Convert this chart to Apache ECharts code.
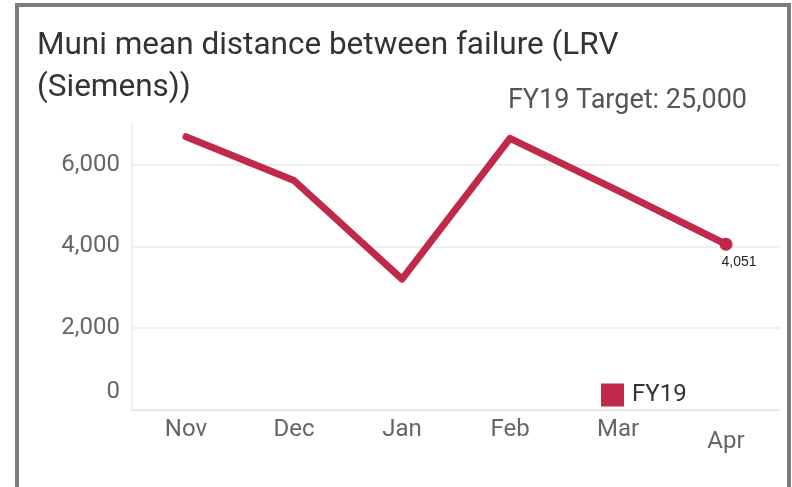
<!DOCTYPE html>
<html>
<head>
<meta charset="utf-8">
<script src="https://cdn.jsdelivr.net/npm/echarts@6/dist/echarts.min.js"></script>
<style>
	html, body { margin: 0; padding: 0; background: #fff; }
	#frame { position: absolute; left: 15px; top: 3px; width: 768px; height: 484px;
		border: 4px solid #7b7b7c; border-bottom: none; pointer-events: none; }
	#chart { position: absolute; left: 0; top: 0; width: 792px; height: 487px; }
</style>
</head>
<body>
<div id="chart"></div>
<div id="frame"></div>
<script>
var months = ['Nov', 'Dec', 'Jan', 'Feb', 'Mar', 'Apr'];
var fy19 = [6680, 5610, 3200, 6640, 5360, 4051];
var yTicks = [0, 2000, 4000, 6000];
var targetText = 'FY19 Target: 25,000';

(function() {
	var red = '#c1294a';
	var data = fy19.map(function(v, i) {
		if (i === fy19.length - 1) {
			return {
				value: v,
				symbol: 'circle',
				symbolSize: 13,
				label: {
					show: true,
					position: 'bottom',
					offset: [13, 0],
					distance: 4,
					fontFamily: 'Liberation Sans',
					fontSize: 14,
					color: '#222',
					formatter: function(p) { return p.value.toLocaleString('en-US'); }
				}
			};
		}
		return v;
	});

	echarts.init(document.getElementById('chart')).setOption({
		animation: false,
		title: [
			{
				text: 'Muni mean distance between failure (LRV\n(Siemens))',
				left: 32,
				top: 20,
				textStyle: { fontFamily: 'Roboto', fontSize: 31.5, fontWeight: 'normal', color: '#333', lineHeight: 42 }
			},
			{
				text: targetText,
				right: 40,
				top: 83,
				textStyle: { fontFamily: 'Roboto', fontSize: 27, fontWeight: 'normal', color: '#555' }
			}
		],
		legend: {
			data: ['FY19'],
			left: 596,
			top: 378,
			icon: 'rect',
			itemWidth: 23,
			itemHeight: 23,
			itemGap: 8,
			textStyle: { fontFamily: 'Roboto', fontSize: 24, color: '#333', padding: [0, 0, 0, 3] }
		},
		grid: { left: 132, right: 12, top: 123.6, bottom: 77 },
		xAxis: {
			type: 'category',
			data: months,
			boundaryGap: true,
			axisLine: { lineStyle: { color: '#ddd', type: 'dotted', width: 1 } },
			axisTick: { length: 6, interval: 0, lineStyle: { color: '#e4e4e4' } },
			axisLabel: {
				interval: 0,
				fontFamily: 'Roboto', fontSize: 24, color: '#666', margin: 8,
				formatter: function(v) { return v === 'Apr' ? '{low|' + v + '}' : v; },
				rich: { low: { fontFamily: 'Roboto', fontSize: 24, color: '#666', padding: [12, 0, 0, 0] } }
			}
		},
		yAxis: {
			type: 'value',
			min: 0,
			max: 7000,
			interval: 2000,
			axisLine: { show: true, lineStyle: { color: '#f0f0f0', width: 2 } },
			axisTick: { show: false },
			splitLine: { showMaxLine: false, lineStyle: { color: '#efefef', width: 2 } },
			axisLabel: {
				showMaxLabel: false,
				fontFamily: 'Roboto', fontSize: 24, color: '#666', margin: 12,
				formatter: function(v) {
					if (yTicks.indexOf(v) < 0) return '';
					return v === 0 ? '{up|0}' : v.toLocaleString('en-US');
				},
				rich: { up: { fontFamily: 'Roboto', fontSize: 24, color: '#666', padding: [0, 0, 36, 0] } }
			}
		},
		series: [
			{
				name: 'FY19',
				type: 'line',
				color: red,
				symbol: 'none',
				lineStyle: { width: 7, color: red, cap: 'round', join: 'round' },
				data: data
			}
		]
	});
})();
</script>
</body>
</html>
